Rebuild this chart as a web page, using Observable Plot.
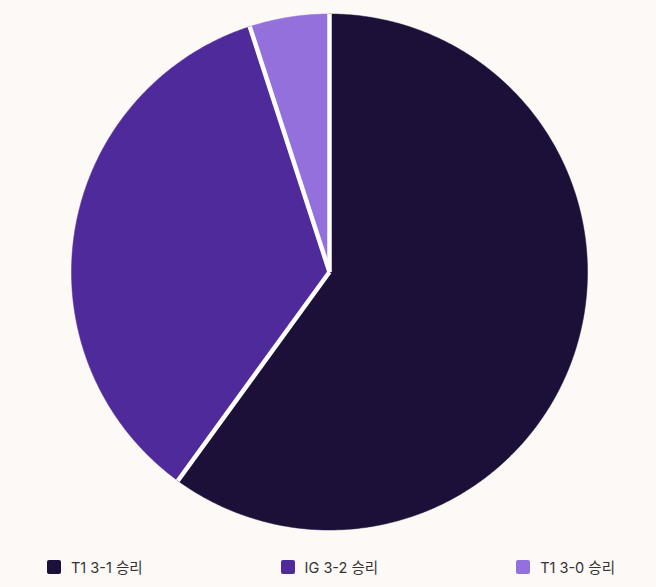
<!DOCTYPE html>
<html>
<head>
<meta charset="utf-8">
<script src="https://cdn.jsdelivr.net/npm/d3@7"></script>
<script src="https://cdn.jsdelivr.net/npm/@observablehq/plot@0.6"></script>
<style>
  html, body { margin: 0; padding: 0; background: #fdf9f6; }
  #chart svg { display: block; background: #fdf9f6; }
  .legend { display: flex; justify-content: space-between; padding: 13px 41px 0 47px;
    font-family: Inter, "Noto Sans CJK KR", sans-serif; font-size: 14.5px; color: #333; }
  .legend .item { display: flex; align-items: center; }
  .legend .sw { width: 14px; height: 14px; border-radius: 2px; margin-right: 10px; }
</style>
</head>
<body>
<div id="chart"></div>
<script>
const categories = ["T1 3-1 승리", "IG 3-2 승리", "T1 3-0 승리"];
const values = [60, 35, 5];
const colors = ["#1d1038", "#4e2a9a", "#9370db"];

const pie = d3.pie().sort(null)(values);
const pts = [];
pie.forEach((s, i) => {
  const cat = categories[i];
  pts.push({cat, x: 0, y: 0});
  const n = Math.max(2, Math.ceil((s.endAngle - s.startAngle) / 0.01));
  for (let k = 0; k <= n; k++) {
    const a = s.startAngle + (s.endAngle - s.startAngle) * k / n;
    pts.push({cat, x: Math.sin(a), y: Math.cos(a)});
  }
  pts.push({cat, x: 0, y: 0});
});
const seps = pie.map(s => ({x1: 0, y1: 0, x2: Math.sin(s.startAngle), y2: Math.cos(s.startAngle)}));

const plot = Plot.plot({
  width: 656,
  height: 543,
  marginLeft: 71, marginRight: 69, marginTop: 13.5, marginBottom: 13.5,
  x: {domain: [-1, 1], axis: null},
  y: {domain: [-1, 1], axis: null},
  color: {domain: categories, range: colors},
  style: {background: "#fdf9f6"},
  marks: [
    Plot.line(pts, {x: "x", y: "y", z: "cat", fill: "cat", stroke: "cat", strokeWidth: 0.5, curve: "linear"}),
    Plot.link(seps, {x1: "x1", y1: "y1", x2: "x2", y2: "y2", stroke: "white", strokeWidth: 4.5, strokeLinecap: "butt"})
  ]
});
document.getElementById("chart").appendChild(plot);

const legend = document.createElement("div");
legend.className = "legend";
categories.forEach((c, i) => {
  const it = document.createElement("div");
  it.className = "item";
  const sw = document.createElement("span");
  sw.className = "sw";
  sw.style.background = colors[i];
  const t = document.createElement("span");
  t.textContent = c;
  it.appendChild(sw); it.appendChild(t);
  legend.appendChild(it);
});
document.body.appendChild(legend);
</script>
</body>
</html>
